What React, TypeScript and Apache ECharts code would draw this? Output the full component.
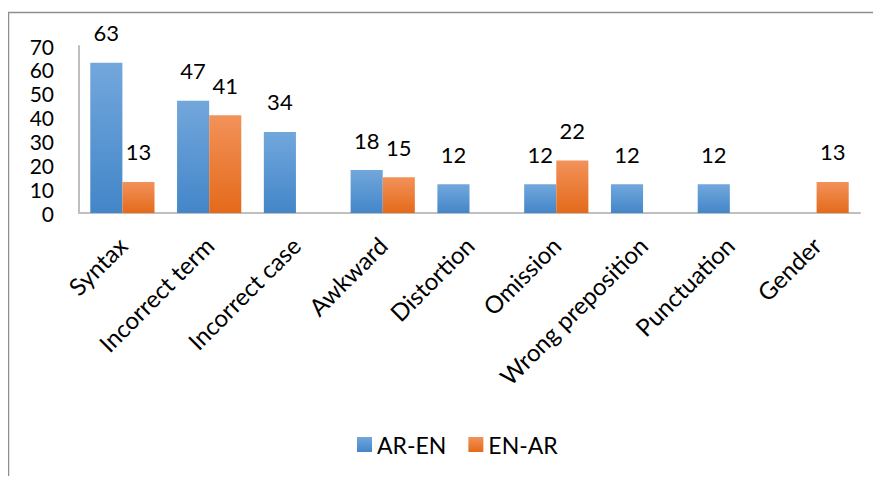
import React, { useEffect, useRef } from "react";
import * as echarts from "echarts";

const categories = [
  "Syntax",
  "Incorrect term",
  "Incorrect case",
  "Awkward",
  "Distortion",
  "Omission",
  "Wrong preposition",
  "Punctuation",
  "Gender",
];
const arEn: (number | null)[] = [63, 47, 34, 18, 12, 12, 12, 12, null];
const enAr: (number | null)[] = [13, 41, null, 15, null, 22, null, null, 13];
const seriesNames = ["AR-EN", "EN-AR"];

const FONT = "Lato";

export default function App() {
  const ref = useRef<HTMLDivElement>(null);
  useEffect(() => {
    if (!ref.current) return;
    const chart = echarts.init(ref.current, null, { renderer: "svg" });
    const blue = new echarts.graphic.LinearGradient(0, 0, 0, 1, [
      { offset: 0, color: "#72a7dc" },
      { offset: 1, color: "#4386c9" },
    ]);
    const orange = new echarts.graphic.LinearGradient(0, 0, 0, 1, [
      { offset: 0, color: "#f2925a" },
      { offset: 1, color: "#e46a1a" },
    ]);
    const label = {
      show: true,
      position: "top" as const,
      distance: 19,
      fontFamily: FONT,
      fontSize: 22,
      color: "#000",
    };
    chart.setOption({
      animation: false,
      backgroundColor: "#fff",
      textStyle: { fontFamily: FONT },
      graphic: [
        {
          type: "rect",
          shape: { x: 8.5, y: 12.5, width: 1000, height: 1000 },
          style: { fill: "none", stroke: "#8f8f8f", lineWidth: 1.5 },
          silent: true,
        },
      ],
      legend: {
        data: seriesNames,
        left: 357,
        top: 433,
        padding: 0,
        itemWidth: 15,
        itemHeight: 15,
        itemGap: 22,
        textStyle: { fontFamily: FONT, fontSize: 23, color: "#000" },
        icon: "rect",
      },
      grid: { left: 79, right: 21, top: 46, bottom: 271, containLabel: false },
      xAxis: {
        type: "category",
        data: categories,
        axisLine: { show: true, lineStyle: { color: "#bfbfbf", width: 2 } },
        axisTick: { show: false },
        axisLabel: {
          rotate: 45,
          interval: 0,
          margin: 28,
          fontFamily: FONT,
          fontSize: 24,
          color: "#000",
        },
      },
      yAxis: {
        type: "value",
        min: 0,
        max: 70,
        interval: 10,
        splitLine: { show: false },
        axisLine: { show: true, lineStyle: { color: "#bfbfbf", width: 2 } },
        axisTick: { show: false },
        axisLabel: {
          margin: 25,
          fontFamily: FONT,
          fontSize: 21,
          lineHeight: 20,
          color: "#000",
        },
      },
      series: [
        {
          name: seriesNames[0],
          type: "bar",
          data: arEn,
          barGap: "0%",
          barCategoryGap: "26%",
          itemStyle: { color: blue },
          label,
        },
        {
          name: seriesNames[1],
          type: "bar",
          data: enAr,
          barGap: "0%",
          barCategoryGap: "26%",
          itemStyle: { color: orange },
          label,
        },
      ],
    });
    return () => chart.dispose();
  }, []);
  return <div ref={ref} style={{ width: 881, height: 484, margin: -8 }} />;
}
